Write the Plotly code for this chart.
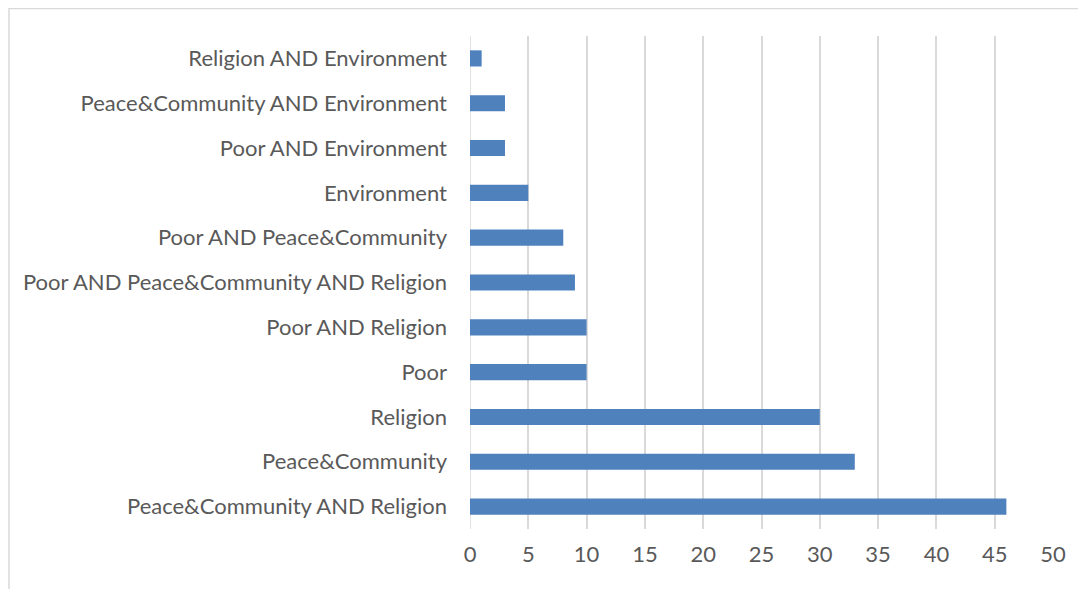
import plotly.graph_objects as go

categories = [
    "Peace&Community AND Religion",
    "Peace&Community",
    "Religion",
    "Poor",
    "Poor AND Religion",
    "Poor AND Peace&Community AND Religion",
    "Poor AND Peace&Community",
    "Environment",
    "Poor AND Environment",
    "Peace&Community AND Environment",
    "Religion AND Environment",
]
values = [46, 33, 30, 10, 10, 9, 8, 5, 3, 3, 1]
x_ticks = [0, 5, 10, 15, 20, 25, 30, 35, 40, 45, 50]

L, R, T, B = 462, 41, 28, 68
PW, PH = 1086 - L - R, 589 - T - B

fig = go.Figure(go.Bar(
    x=values, y=categories, orientation="h",
    marker=dict(color="#4F81BD", line=dict(width=0)),
    width=0.36,
))

fig.update_layout(
    width=1086, height=589,
    margin=dict(l=L, r=R, t=T, b=B),
    paper_bgcolor="white", plot_bgcolor="white",
    font=dict(family="Lato", size=22, color="#595959"),
    showlegend=False,
)
fig.update_xaxes(
    range=[0, 50], tickvals=x_ticks, ticktext=[str(t) for t in x_ticks],
    showgrid=True, gridcolor="#D9D9D9", gridwidth=1.5,
    zeroline=False, showline=False, ticks="", ticklen=0,
    ticklabelstandoff=10,
    tickfont=dict(size=22, color="#595959"),
)
fig.update_yaxes(
    categoryorder="array", categoryarray=categories,
    showgrid=False, zeroline=False, showline=False,
    ticks="", ticklen=0, ticklabelstandoff=22,
    tickfont=dict(size=22, color="#595959"),
)
fig.add_shape(type="line", xref="x", yref="paper", x0=0, x1=0, y0=0, y1=1,
              line=dict(color="#D9D9D9", width=1.5), layer="below")
fig.add_shape(type="rect", xref="paper", yref="paper",
              x0=-(L - 1) / PW, x1=1.2, y0=-0.3, y1=1 + (T - 0.5) / PH,
              line=dict(color="#D9D9D9", width=1.5), fillcolor="rgba(0,0,0,0)")

fig.write_html("out.html")
